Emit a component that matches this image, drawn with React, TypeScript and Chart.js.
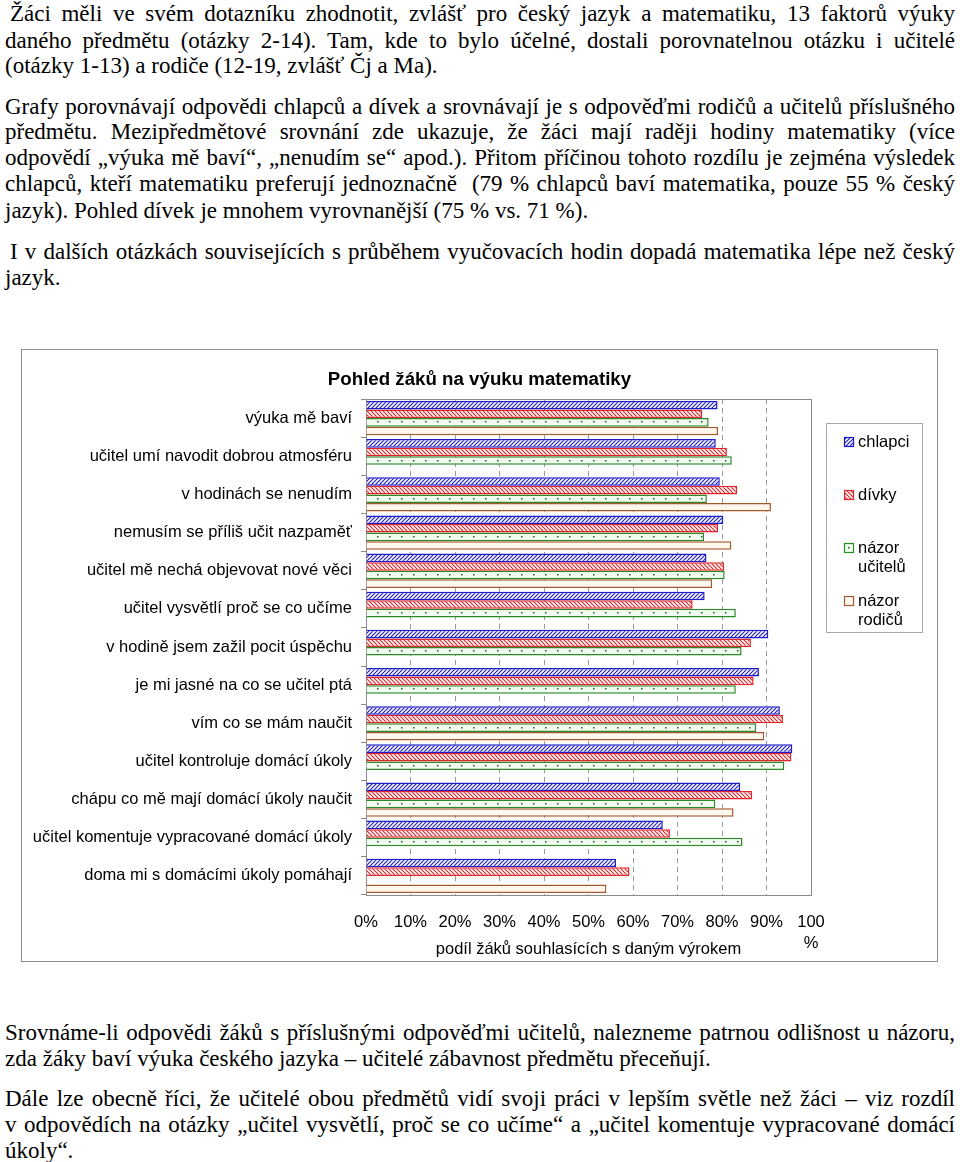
import React, { useEffect, useRef } from "react";
import { Chart, registerables } from "chart.js";
Chart.register(...registerables);

const categories = [
  "výuka mě baví",
  "učitel umí navodit dobrou atmosféru",
  "v hodinách se nenudím",
  "nemusím se příliš učit nazpaměť",
  "učitel mě nechá objevovat nové věci",
  "učitel vysvětlí proč se co učíme",
  "v hodině jsem zažil pocit úspěchu",
  "je mi jasné na co se učitel ptá",
  "vím co se mám naučit",
  "učitel kontroluje domácí úkoly",
  "chápu co mě mají domácí úkoly naučit",
  "učitel komentuje vypracované domácí úkoly",
  "doma mi s domácími úkoly pomáhají",
];
const seriesNames = ["chlapci", "dívky", "názor učitelů", "názor rodičů"];
const chlapci = [79, 78.6, 79.5, 80.3, 76.5, 76.1, 90.4, 88.3, 93.0, 95.8, 84.1, 66.7, 56.2];
const divky = [75.5, 81.1, 83.4, 79.1, 80.5, 73.4, 86.5, 87.1, 93.7, 95.6, 86.8, 68.3, 59.2];
const ucitele = [77.0, 82.2, 76.6, 76.0, 80.6, 83.1, 84.4, 83.1, 87.7, 94.0, 78.5, 84.6, null];
const rodice = [79.1, null, 91.0, 82.1, 77.8, null, null, null, 89.5, null, 82.6, null, 54.0];
const xTickValues = [0, 10, 20, 30, 40, 50, 60, 70, 80, 90, 100];

const chartTitle = "Pohled žáků na výuku matematiky";
const xTitle = "podíl žáků souhlasících s daným výrokem";

const SANS = '"Liberation Sans", Arial, sans-serif';
const SERIF = '"Liberation Serif", "Times New Roman", serif';
const FS = 16.5;

const BLUE = "#1c1cc8";
const RED = "#e0262a";
const GREEN = "#2a8a2a";
const BROWN = "#a8582e";
const GREEN_FILL = "#f2fbf0";
const BROWN_FILL = "#fff8ef";

function hatch(color: string, dir: number): CanvasPattern | string {
  const c = document.createElement("canvas");
  c.width = 4;
  c.height = 4;
  const g = c.getContext("2d");
  if (!g) return color;
  g.fillStyle = "#ffffff";
  g.fillRect(0, 0, 4, 4);
  g.strokeStyle = color;
  g.lineWidth = 1.2;
  g.beginPath();
  if (dir > 0) {
    g.moveTo(0, 4); g.lineTo(4, 0);
    g.moveTo(-1, 1); g.lineTo(1, -1);
    g.moveTo(3, 5); g.lineTo(5, 3);
  } else {
    g.moveTo(0, 0); g.lineTo(4, 4);
    g.moveTo(-1, 3); g.lineTo(1, 5);
    g.moveTo(3, -1); g.lineTo(5, 1);
  }
  g.stroke();
  return g.createPattern(c, "repeat") || color;
}

const plotBorder = {
  id: "plotBorder",
  beforeDatasetsDraw(chart: any) {
    const { ctx, chartArea: a } = chart;
    ctx.save();
    ctx.strokeStyle = "#8a8a8a";
    ctx.lineWidth = 1;
    ctx.strokeRect(Math.round(a.left) + 0.5, Math.round(a.top) + 0.5, Math.round(a.right - a.left), Math.round(a.bottom - a.top));
    ctx.restore();
  },
};

const greenDots = {
  id: "greenDots",
  afterDatasetsDraw(chart: any) {
    const meta = chart.getDatasetMeta(2);
    const ctx = chart.ctx;
    ctx.save();
    ctx.fillStyle = "#1f5f1f";
    meta.data.forEach((el: any) => {
      if (!el || !isFinite(el.x) || !isFinite(el.base)) return;
      const start = Math.min(el.base, el.x);
      const end = Math.max(el.base, el.x);
      if (end - start < 4) return;
      for (let px = start + 10; px < end - 3; px += 12) {
        ctx.fillRect(Math.round(px), Math.round(el.y) - 1, 1.5, 1.5);
      }
    });
    ctx.restore();
  },
};

const customLegend = {
  id: "customLegend",
  afterDraw(chart: any) {
    const ctx = chart.ctx;
    const ds = chart.data.datasets;
    ctx.save();
    ctx.strokeStyle = "#a8a8a8";
    ctx.lineWidth = 1;
    ctx.strokeRect(804.5, 73.5, 96, 209);
    const rows = [92, 145, 198, 251];
    ctx.font = `${FS}px ${SANS}`;
    ctx.textBaseline = "middle";
    ctx.textAlign = "left";
    ds.forEach((d: any, i: number) => {
      const y = rows[i];
      ctx.fillStyle = d.backgroundColor;
      ctx.fillRect(822, y - 5, 10, 10);
      ctx.strokeStyle = d.borderColor;
      ctx.lineWidth = 1.2;
      ctx.strokeRect(822.5, y - 4.5, 9, 9);
      if (i === 2) {
        ctx.fillStyle = "#1f5f1f";
        ctx.fillRect(826, y - 1, 1.5, 1.5);
      }
      ctx.fillStyle = "#000";
      const parts = String(d.label).split(" ");
      parts.forEach((p: string, k: number) => ctx.fillText(p, 836, y + k * 19));
    });
    ctx.restore();
  },
};

function ChartBox() {
  const ref = useRef<HTMLCanvasElement | null>(null);
  useEffect(() => {
    if (!ref.current) return;
    const fills = [hatch(BLUE, 1), hatch(RED, -1), GREEN_FILL, BROWN_FILL];
    const borders = [BLUE, RED, GREEN, BROWN];
    const values = [chlapci, divky, ucitele, rodice];
    const chart = new Chart(ref.current, {
      type: "bar",
      data: {
        labels: categories,
        datasets: values.map((v, i) => ({
          label: seriesNames[i],
          data: v,
          backgroundColor: fills[i] as any,
          borderColor: borders[i],
          borderWidth: 1.5,
          categoryPercentage: 0.9,
          barPercentage: 1,
        })),
      },
      options: {
        indexAxis: "y",
        animation: false,
        responsive: false,
        devicePixelRatio: 1,
        layout: { padding: { left: 0, right: 0, top: 0, bottom: 0 } },
        plugins: {
          legend: { display: false },
          tooltip: { enabled: false },
          title: {
            display: true,
            text: chartTitle,
            color: "#000",
            font: { family: SANS, size: 18.7, weight: "bold", lineHeight: 1.2 },
            padding: { top: 18.8, bottom: 7.8 },
          },
        },
        scales: {
          x: {
            type: "linear",
            min: 0,
            max: 100,
            afterBuildTicks: (s: any) => {
              s.ticks = xTickValues.map((v) => ({ value: v }));
            },
            ticks: {
              color: "#000",
              font: { family: SANS, size: FS, lineHeight: 1.33 },
              padding: 16,
              maxRotation: 0,
              autoSkip: false,
              callback: (v: any) => (Number(v) === 100 ? ["100", "%"] : `${v}%`),
            },
            grid: { color: "#9a9a9a", drawTicks: false, lineWidth: 1 },
            border: { display: false, dash: [5, 4] },
            title: {
              display: true,
              text: xTitle,
              color: "#000",
              font: { family: SANS, size: FS, lineHeight: 1.2 },
              padding: { top: 0, bottom: 2 },
            },
            afterFit: (s: any) => {
              s.height = 66;
            },
          },
          y: {
            type: "category",
            ticks: { color: "#000", font: { family: SANS, size: FS }, padding: 9, autoSkip: false },
            grid: { offset: true, drawOnChartArea: false, drawTicks: true, tickLength: 5, color: "#8a8a8a" },
            border: { color: "#8a8a8a" },
            afterFit: (s: any) => {
              s.width = 344;
            },
          },
          legendSpace: {
            type: "category",
            position: "right",
            display: true,
            ticks: { display: false },
            grid: { display: false, drawTicks: false },
            border: { display: false },
            afterFit: (s: any) => {
              s.width = 126;
            },
          },
        },
      } as any,
      plugins: [plotBorder, greenDots, customLegend],
    });
    return () => chart.destroy();
  }, []);
  return (
    <div
      style={{
        position: "absolute",
        left: 21,
        top: 349,
        width: 917,
        height: 613,
        border: "1px solid #8c8c8c",
        boxSizing: "border-box",
        background: "#fff",
      }}
    >
      <canvas ref={ref} width={915} height={611} style={{ display: "block", width: 915, height: 611 }} />
    </div>
  );
}

type L = { top: number; text: string; j?: boolean; indent?: number };

const lines: L[] = [
  { top: 1, text: "Žáci měli ve svém dotazníku zhodnotit, zvlášť pro český jazyk a matematiku, 13 faktorů výuky", j: true, indent: 5 },
  { top: 27.5, text: "daného předmětu (otázky 2-14). Tam, kde to bylo účelné, dostali porovnatelnou otázku i učitelé", j: true },
  { top: 52.5, text: "(otázky 1-13) a rodiče (12-19, zvlášť Čj a Ma)." },
  { top: 94.2, text: "Grafy porovnávají odpovědi chlapců a dívek a srovnávají je s odpověďmi rodičů a učitelů příslušného", j: true },
  { top: 119.2, text: "předmětu. Mezipředmětové srovnání zde ukazuje, že žáci mají raději hodiny matematiky (více", j: true },
  { top: 145, text: "odpovědí „výuka mě baví“, „nenudím se“ apod.). Přitom příčinou tohoto rozdílu je zejména výsledek", j: true },
  { top: 171, text: "chlapců, kteří matematiku preferují jednoznačně\u00a0 (79 % chlapců baví matematika, pouze 55 % český", j: true },
  { top: 197.5, text: "jazyk). Pohled dívek je mnohem vyrovnanější (75 % vs. 71 %)." },
  { top: 238.5, text: "I v dalších otázkách souvisejících s průběhem vyučovacích hodin dopadá matematika lépe než český", j: true, indent: 5 },
  { top: 265, text: "jazyk." },
  { top: 1019.5, text: "Srovnáme-li odpovědi žáků s příslušnými odpověďmi učitelů, nalezneme patrnou odlišnost u názoru,", j: true },
  { top: 1045.5, text: "zda žáky baví výuka českého jazyka – učitelé zábavnost předmětu přeceňují." },
  { top: 1085.5, text: "Dále lze obecně říci, že učitelé obou předmětů vidí svoji práci v lepším světle než žáci – viz rozdíl", j: true },
  { top: 1111.5, text: "v odpovědích na otázky „učitel vysvětlí, proč se co učíme“ a „učitel komentuje vypracované domácí", j: true },
  { top: 1137.5, text: "úkoly“." },
];

export default function App() {
  return (
    <div style={{ position: "absolute", left: 0, top: 0, width: 960, height: 1162, background: "#fff", overflow: "hidden" }}>
      {lines.map((l, i) => (
        <div
          key={i}
          style={{
            position: "absolute",
            left: 5,
            top: l.top,
            width: 950,
            height: 26,
            lineHeight: "26px",
            fontFamily: SERIF,
            fontSize: 23,
            color: "#000",
            whiteSpace: "nowrap",
            textIndent: l.indent || 0,
            textAlign: l.j ? "justify" : "left",
            textAlignLast: l.j ? "justify" : "left",
          } as any}
        >
          {l.text}
        </div>
      ))}
      <ChartBox />
    </div>
  );
}
